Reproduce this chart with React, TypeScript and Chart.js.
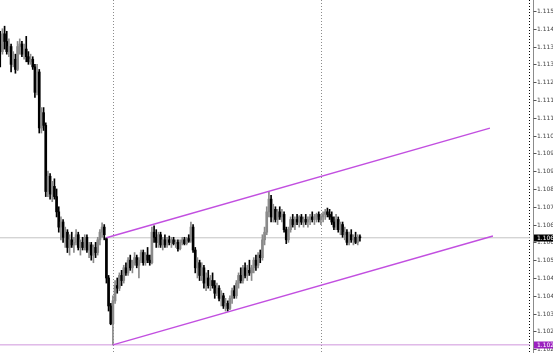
import React, { useEffect, useRef } from "react";
import { Chart, registerables } from "chart.js";

Chart.register(...registerables);

// ---- data (price values) ----
const opens = [
  1.1140, 1.1137, 1.1144, 1.1141, 1.1137, 1.1139, 1.1132, 1.1134, 1.1130, 1.1139,
  1.1140, 1.1136, 1.1138, 1.1135, 1.1133, 1.1134, 1.1131, 1.1121, 1.1129, 1.1107,
  1.1113, 1.1108, 1.1082, 1.1088, 1.1081, 1.1084, 1.1080, 1.1074, 1.1068, 1.1070,
  1.1064, 1.1066, 1.1060, 1.1063, 1.1061, 1.1062, 1.1065, 1.1060, 1.1062, 1.1060,
  1.1064, 1.1059, 1.1061, 1.1057, 1.1060, 1.1058, 1.1063, 1.1066, 1.1068, 1.10635,
  1.1048, 1.1037, 1.1030, 1.1039, 1.1045, 1.1044, 1.1049, 1.1047, 1.1052, 1.1050,
  1.1055, 1.1052, 1.1054, 1.1056, 1.1053, 1.1055, 1.1058, 1.1054, 1.1057, 1.1055,
  1.1054, 1.1066, 1.1064, 1.1062, 1.1065, 1.1061, 1.1063, 1.1061, 1.1063, 1.1062,
  1.1063, 1.10615, 1.1062, 1.10595, 1.1062, 1.1063, 1.10615, 1.10635, 1.10625, 1.1068,
  1.1059, 1.1052, 1.1054, 1.1049, 1.1052, 1.1046, 1.1048, 1.1045, 1.1047, 1.1045,
  1.1042, 1.1044, 1.1040, 1.1041, 1.1037, 1.1038, 1.1036, 1.1040, 1.1043, 1.1041,
  1.1046, 1.1049, 1.1047, 1.1052, 1.1049, 1.1051, 1.1050, 1.1052, 1.1055, 1.1053,
  1.1057, 1.1056, 1.1063, 1.1066, 1.1074, 1.1079, 1.1072, 1.1075, 1.1071, 1.1074,
  1.1072, 1.1073, 1.1067, 1.1063, 1.1067, 1.1071, 1.1069, 1.1071, 1.1070, 1.1072,
  1.1070, 1.1071, 1.1070, 1.1071, 1.1072, 1.1071, 1.1072, 1.1073, 1.1071, 1.1072,
  1.1073, 1.1074, 1.1073, 1.1072, 1.1070, 1.1068, 1.1071, 1.1067, 1.1069, 1.1065,
  1.1066, 1.1062, 1.1065, 1.1063, 1.1064, 1.1062, 1.1064,
];
const highs = [
  1.1145, 1.1146, 1.1147, 1.1145, 1.1142, 1.1140, 1.1137, 1.1136, 1.1141, 1.1142,
  1.1141, 1.1140, 1.1143, 1.1137, 1.1136, 1.1135, 1.1132, 1.1132, 1.1130, 1.1115,
  1.1115, 1.1109, 1.1090, 1.1089, 1.1086, 1.1087, 1.1083, 1.1076, 1.1072, 1.1071,
  1.1068, 1.1067, 1.1065, 1.1066, 1.1064, 1.1067, 1.1066, 1.1063, 1.1064, 1.1065,
  1.1065, 1.1062, 1.1062, 1.1061, 1.1062, 1.1064, 1.1067, 1.10697, 1.1069, 1.10638,
  1.1049, 1.1038, 1.1041, 1.1047, 1.1048, 1.1050, 1.1051, 1.1053, 1.1054, 1.1056,
  1.1057, 1.1055, 1.1058, 1.1057, 1.1056, 1.1059, 1.1059, 1.1058, 1.1060, 1.1057,
  1.1068, 1.10685, 1.1067, 1.1066, 1.1066, 1.1064, 1.1065, 1.1064, 1.10645, 1.1064,
  1.1064, 1.1063, 1.1063, 1.1063, 1.1064, 1.1064, 1.1064, 1.1065, 1.1070, 1.1069,
  1.1060, 1.1056, 1.1055, 1.1054, 1.1053, 1.1050, 1.1051, 1.1049, 1.1050, 1.1047,
  1.1046, 1.1045, 1.1043, 1.1042, 1.1040, 1.1039, 1.1041, 1.1044, 1.1045, 1.1047,
  1.1050, 1.1052, 1.1053, 1.1054, 1.1053, 1.1055, 1.1053, 1.1056, 1.1057, 1.1058,
  1.1059, 1.1065, 1.1068, 1.1076, 1.1082, 1.10805, 1.1077, 1.1076, 1.1075, 1.1076,
  1.1075, 1.1074, 1.1068, 1.1068, 1.1072, 1.1073, 1.1072, 1.1073, 1.10725, 1.1073,
  1.1072, 1.1073, 1.1072, 1.1073, 1.1074, 1.1073, 1.10735, 1.1074, 1.1073, 1.1074,
  1.1075, 1.10755, 1.1075, 1.1074, 1.1072, 1.1073, 1.1072, 1.1070, 1.1070, 1.1068,
  1.1067, 1.1066, 1.1067, 1.1065, 1.1066, 1.1065, 1.1065,
];
const lows = [
  1.1131, 1.1136, 1.1138, 1.1136, 1.1135, 1.1129, 1.1131, 1.11285, 1.11295, 1.1136,
  1.1135, 1.1134, 1.1133, 1.1132, 1.1132, 1.1130, 1.1119, 1.1120, 1.1105, 1.1105,
  1.1106, 1.1080, 1.1080, 1.1079, 1.1078, 1.1079, 1.1072, 1.1066, 1.1063, 1.1062,
  1.1060, 1.1058, 1.1057, 1.1060, 1.1058, 1.1061, 1.1059, 1.1057, 1.1059, 1.1059,
  1.1058, 1.1056, 1.1055, 1.1054, 1.1056, 1.1057, 1.1061, 1.1064, 1.1063, 1.1046,
  1.1035, 1.10296, 1.10217, 1.1038, 1.1042, 1.1043, 1.1045, 1.1046, 1.1049, 1.1049,
  1.1051, 1.1050, 1.1053, 1.1052, 1.1048, 1.1054, 1.1053, 1.1053, 1.1054, 1.1053,
  1.10535, 1.1062, 1.1060, 1.1060, 1.1060, 1.1059, 1.1060, 1.1060, 1.1061, 1.1060,
  1.1061, 1.1060, 1.10585, 1.1059, 1.1061, 1.1061, 1.1061, 1.1062, 1.1062, 1.1058,
  1.1050, 1.1048, 1.1047, 1.1047, 1.1044, 1.1043, 1.1044, 1.1043, 1.1044, 1.1040,
  1.1041, 1.1039, 1.1037, 1.1036, 1.1035, 1.10349, 1.10355, 1.1038, 1.1040, 1.1040,
  1.1044, 1.1046, 1.1046, 1.1048, 1.1047, 1.1049, 1.1047, 1.1050, 1.1051, 1.1052,
  1.1054, 1.1055, 1.1061, 1.1065, 1.1072, 1.1070, 1.1070, 1.1070, 1.1069, 1.1071,
  1.1070, 1.1066, 1.10615, 1.1062, 1.1066, 1.1068, 1.1067, 1.1069, 1.1068, 1.1069,
  1.1068, 1.1069, 1.1068, 1.1069, 1.1070, 1.1069, 1.1070, 1.1070, 1.1069, 1.1070,
  1.1071, 1.1072, 1.1071, 1.1069, 1.1067, 1.1067, 1.1066, 1.1065, 1.1064, 1.1063,
  1.1061, 1.1061, 1.1062, 1.1061, 1.10615, 1.1061, 1.10625,
];
const closes = [
  1.1137, 1.1144, 1.1141, 1.1137, 1.1139, 1.1132, 1.1134, 1.1130, 1.1139, 1.1140,
  1.1136, 1.1138, 1.1135, 1.1133, 1.1134, 1.1131, 1.1121, 1.1129, 1.1107, 1.1113,
  1.1108, 1.1082, 1.1088, 1.1081, 1.1084, 1.1080, 1.1074, 1.1068, 1.1070, 1.1064,
  1.1066, 1.1060, 1.1063, 1.1061, 1.1062, 1.1065, 1.1060, 1.1062, 1.1060, 1.1064,
  1.1059, 1.1061, 1.1057, 1.1060, 1.1058, 1.1063, 1.1066, 1.1068, 1.1065, 1.1048,
  1.1037, 1.1030, 1.1039, 1.1045, 1.1044, 1.1049, 1.1047, 1.1052, 1.1050, 1.1055,
  1.1052, 1.1054, 1.1056, 1.1053, 1.1055, 1.1058, 1.1054, 1.1057, 1.1055, 1.1054,
  1.1066, 1.1064, 1.1062, 1.1065, 1.1061, 1.1063, 1.1061, 1.1063, 1.1062, 1.1063,
  1.10615, 1.1062, 1.10595, 1.1062, 1.1063, 1.10615, 1.10635, 1.10625, 1.1068, 1.1059,
  1.1052, 1.1054, 1.1049, 1.1052, 1.1046, 1.1048, 1.1045, 1.1047, 1.1045, 1.1042,
  1.1044, 1.1040, 1.1041, 1.1037, 1.1038, 1.1036, 1.1040, 1.1043, 1.1041, 1.1046,
  1.1049, 1.1047, 1.1052, 1.1049, 1.1051, 1.1050, 1.1052, 1.1055, 1.1053, 1.1057,
  1.1056, 1.1063, 1.1066, 1.1074, 1.1079, 1.1072, 1.1075, 1.1071, 1.1074, 1.1072,
  1.1073, 1.1067, 1.1063, 1.1067, 1.1071, 1.1069, 1.1071, 1.1070, 1.1072, 1.1070,
  1.1071, 1.1070, 1.1071, 1.1072, 1.1071, 1.1072, 1.1073, 1.1071, 1.1072, 1.1073,
  1.1074, 1.1073, 1.1072, 1.1070, 1.1068, 1.1071, 1.1067, 1.1069, 1.1065, 1.1066,
  1.1062, 1.1065, 1.1063, 1.1064, 1.1062, 1.1064, 1.10638,
];

const tickValues = [
  1.1153, 1.1146, 1.1139, 1.1132, 1.1125, 1.1118, 1.1111, 1.1104, 1.1097, 1.109,
  1.1083, 1.1076, 1.1069, 1.1062, 1.1055, 1.1048, 1.1041, 1.1034, 1.1027, 1.102,
];

// period separators (bar index positions between bars)
const separatorIndexes = [52.5, 148.5, 244.5];

// channel anchor points (bar index, price)
const channelUpper = [
  { x: 49, y: 1.10638 },
  { x: 226, y: 1.11069 },
];
const channelLower = [
  { x: 52, y: 1.10217 },
  { x: 227.4, y: 1.10645 },
];

const bidPrice = 1.10638;
const lowPrice = 1.10217;

const X_MIN = -0.115;
const X_MAX = 244.5;
const Y_MIN = 1.10185;
const Y_MAX = 1.11573;

const BULL = "#8a8a8a";
const BEAR = "#000000";
const CHANNEL = "#c24fe0";

const axisPlugin = {
  id: "mtAxis",
  beforeDatasetsDraw(chart: any) {
    const ctx = chart.ctx;
    const xs = chart.scales.x;
    const area = chart.chartArea;
    ctx.save();
    separatorIndexes.forEach((v, k) => {
      const px = Math.round(xs.getPixelForValue(v)) - 0.5;
      ctx.strokeStyle = k === separatorIndexes.length - 1 ? "#000000" : "#8c8c8c";
      ctx.lineWidth = 1;
      ctx.setLineDash([1, 2]);
      ctx.beginPath();
      ctx.moveTo(px, area.top);
      ctx.lineTo(px, area.bottom);
      ctx.stroke();
    });
    ctx.restore();
  },
  afterDraw(chart: any) {
    const ctx = chart.ctx;
    const ys = chart.scales.y;
    const area = chart.chartArea;
    const axisX = area.right + 3.5;
    ctx.save();
    ctx.strokeStyle = "#8c8c8c";
    ctx.lineWidth = 1;
    ctx.beginPath();
    ctx.moveTo(axisX, 0);
    ctx.lineTo(axisX, chart.height);
    ctx.stroke();
    ctx.font = '6px "DejaVu Sans", sans-serif';
    ctx.textBaseline = "middle";
    ctx.textAlign = "left";
    tickValues.forEach((v) => {
      const py = Math.round(ys.getPixelForValue(v)) + 0.5;
      ctx.strokeStyle = "#555";
      ctx.beginPath();
      ctx.moveTo(axisX, py);
      ctx.lineTo(axisX + 3, py);
      ctx.stroke();
      ctx.fillStyle = "#444";
      ctx.fillText(v.toFixed(4), axisX + 3.5, py);
    });
    const box = (price: number, bg: string) => {
      const py = Math.round(ys.getPixelForValue(price));
      ctx.fillStyle = bg;
      ctx.fillRect(axisX + 0.5, py - 3.5, chart.width - axisX, 7);
      ctx.fillStyle = "#ffffff";
      ctx.fillText(price.toFixed(4), axisX + 3.5, py);
    };
    box(bidPrice, "#000000");
    box(lowPrice, "#9b1fbf");
    ctx.restore();
  },
};

export default function App() {
  const canvasRef = useRef<HTMLCanvasElement | null>(null);

  useEffect(() => {
    document.body.style.margin = "0";
    const canvas = canvasRef.current;
    if (!canvas) return;
    const colorFor = (c: any) =>
      closes[c.dataIndex] >= opens[c.dataIndex] ? BULL : BEAR;

    const chart = new Chart(canvas, {
      type: "bar",
      data: {
        datasets: [
          {
            type: "line",
            data: channelUpper,
            borderColor: CHANNEL,
            borderWidth: 1.4,
            pointRadius: 0,
            order: 0,
          } as any,
          {
            type: "line",
            data: channelLower,
            borderColor: CHANNEL,
            borderWidth: 1.4,
            pointRadius: 0,
            order: 0,
          } as any,
          {
            type: "bar",
            data: lows.map((l, i) => ({ x: i, y: [l, highs[i]] })),
            backgroundColor: colorFor,
            barThickness: 1,
            grouped: false,
            order: 1,
          } as any,
          {
            type: "bar",
            data: opens.map((o, i) => ({ x: i, y: [o, closes[i]] })),
            backgroundColor: colorFor,
            barThickness: 2,
            minBarLength: 1,
            grouped: false,
            order: 1,
          } as any,
          {
            type: "line",
            data: [
              { x: X_MIN, y: bidPrice },
              { x: X_MAX, y: bidPrice },
            ],
            borderColor: "#c4c4c4",
            borderWidth: 1,
            pointRadius: 0,
            order: 2,
          } as any,
          {
            type: "line",
            data: [
              { x: X_MIN, y: lowPrice },
              { x: X_MAX, y: lowPrice },
            ],
            borderColor: "#cf95dc",
            borderWidth: 1,
            pointRadius: 0,
            order: 2,
          } as any,
        ],
      },
      options: {
        animation: false,
        responsive: false,
        devicePixelRatio: 1,
        layout: { padding: { left: 0, top: 0, bottom: 0, right: 23 } },
        plugins: { legend: { display: false }, tooltip: { enabled: false } },
        scales: {
          x: { type: "linear", min: X_MIN, max: X_MAX, offset: false, display: false },
          y: { type: "linear", min: Y_MIN, max: Y_MAX, display: false },
        },
      } as any,
      plugins: [axisPlugin],
    });
    return () => chart.destroy();
  }, []);

  return (
    <div style={{ position: "fixed", left: 0, top: 0, width: 553, height: 353, background: "#fff" }}>
      <canvas ref={canvasRef} width={553} height={353} style={{ display: "block" }} />
    </div>
  );
}
